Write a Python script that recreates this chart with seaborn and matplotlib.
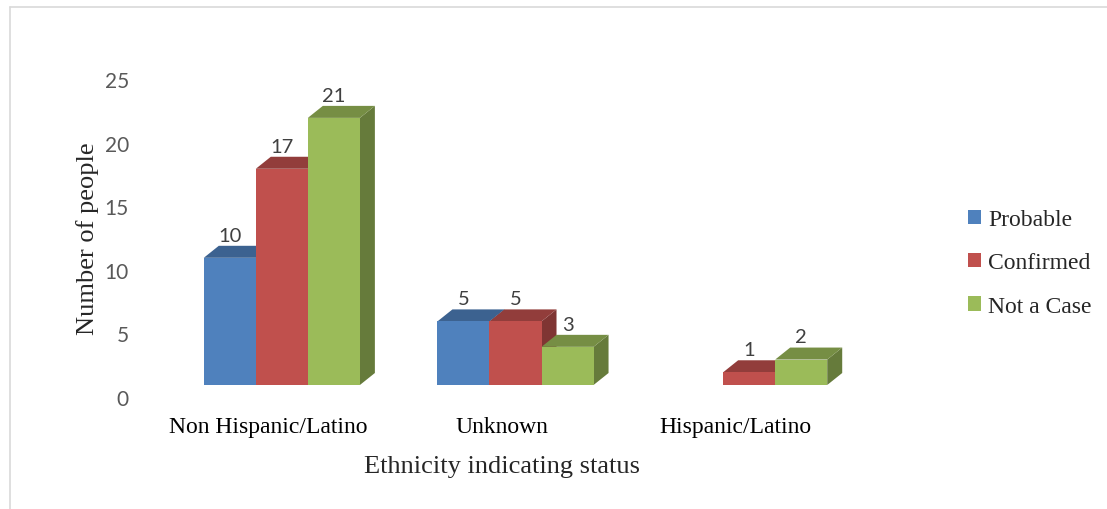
import numpy as np
import pandas as pd
import matplotlib
matplotlib.use("Agg")
import matplotlib.pyplot as plt
import matplotlib.transforms as mtransforms
from matplotlib.patches import Polygon, Patch
from matplotlib.lines import Line2D
import seaborn as sns

# data
categories = ["Non Hispanic/Latino", "Unknown", "Hispanic/Latino"]
statuses = ["Probable", "Confirmed", "Not a Case"]
probable = [10, 5, 0]
confirmed = [17, 5, 1]
not_a_case = [21, 3, 2]
y_ticks = [0, 5, 10, 15, 20, 25]

colors = ["#4F81BD", "#C0504D", "#9BBB59"]

rows = []
for i, cat in enumerate(categories):
    for st, vals in zip(statuses, [probable, confirmed, not_a_case]):
        rows.append({"Ethnicity": cat, "Status": st, "Count": vals[i]})
df = pd.DataFrame(rows)

sns.set_theme(style="white")
plt.rcParams["font.family"] = ["Liberation Serif", "DejaVu Serif"]

fig = plt.figure(figsize=(11.07, 5.10), dpi=100)
ax = fig.add_axes([151 / 1107, 112 / 510, 701 / 1107, 318 / 510])

sns.barplot(data=df, x="Ethnicity", y="Count", hue="Status", order=categories,
            hue_order=statuses, palette=colors, width=0.668, saturation=1,
            linewidth=0, errorbar=None, legend=False, ax=ax)

ax.set_xlim(-0.5, 2.5)
ax.set_ylim(0, 25)
ax.set_yticks(y_ticks)
for s in ax.spines.values():
    s.set_visible(False)

# pseudo 3d look: front face shifted, plus top and side faces
shift = mtransforms.ScaledTranslation(0.14, 0.12, fig.dpi_scale_trans)
depth_px = (15, 12)
inv = ax.transData.inverted()
p0 = inv.transform((0, 0))
p1 = inv.transform(depth_px)
ddx, ddy = p1 - p0


def darker(c, f):
    r, g, b = matplotlib.colors.to_rgb(c)
    return (r * f, g * f, b * f)


bars = []
for h, cont in enumerate(ax.containers):
    for i, bar in enumerate(cont):
        bars.append((i, h, bar))
bars.sort(key=lambda t: (t[0], t[1]))

for k, (i, h, bar) in enumerate(bars):
    z = 2 + k * 0.1
    bar.set_transform(ax.transData + shift)
    bar.set_zorder(z + 0.05)
    x0 = bar.get_x()
    w = bar.get_width()
    hgt = bar.get_height()
    if hgt <= 0:
        bar.set_visible(False)
        continue
    col = colors[h]
    side = Polygon([(x0 + w, 0), (x0 + w + ddx, ddy), (x0 + w + ddx, hgt + ddy), (x0 + w, hgt)],
                   closed=True, facecolor=darker(col, 0.66), edgecolor="none",
                   transform=ax.transData + shift, zorder=z)
    top = Polygon([(x0, hgt), (x0 + ddx, hgt + ddy), (x0 + w + ddx, hgt + ddy), (x0 + w, hgt)],
                  closed=True, facecolor=darker(col, 0.76), edgecolor="none",
                  transform=ax.transData + shift, zorder=z + 0.02)
    ax.add_patch(side)
    ax.add_patch(top)
    ax.annotate(f"{int(hgt)}", xy=(x0 + w / 2, hgt + ddy), xycoords=ax.transData + shift,
                xytext=(0, 1.5), textcoords="offset points", ha="center", va="bottom",
                fontsize=14.5, color="#404040", family=["Lato", "DejaVu Sans"], zorder=10)

ax.tick_params(axis="y", length=0, pad=16, labelsize=15, labelcolor="#595959")
for t in ax.get_yticklabels():
    t.set_family(["Lato", "DejaVu Sans"])
ax.tick_params(axis="x", length=0, pad=14, labelsize=17, labelcolor="black")

ax.set_xlabel("Ethnicity indicating status", fontsize=19, labelpad=13)
ax.set_ylabel("Number of people", fontsize=19, labelpad=4)

handles = [Patch(facecolor=c, edgecolor="none") for c in colors]
fig.legend(handles, statuses, loc="center left", bbox_to_anchor=(947 / 1107, 1 - 264 / 510),
           frameon=False, fontsize=17, handlelength=0.55, handleheight=0.55,
           handletextpad=0.3, labelspacing=0.95)

# light chart border
fig.add_artist(Line2D([10 / 1107, 1], [1 - 8 / 510, 1 - 8 / 510], color="#d9d9d9", lw=1.2))
fig.add_artist(Line2D([10 / 1107, 10 / 1107], [0, 1 - 8 / 510], color="#d9d9d9", lw=1.2))

fig.savefig("out.png", dpi=100)
